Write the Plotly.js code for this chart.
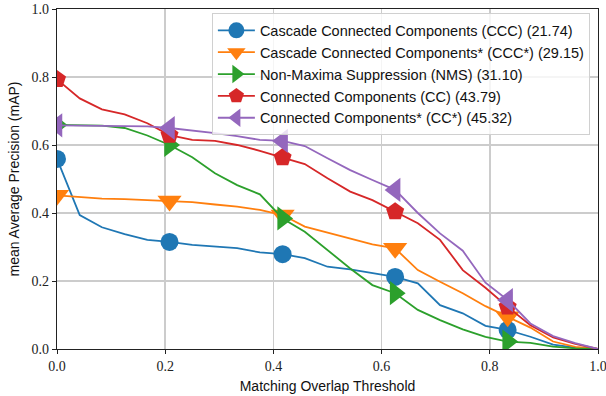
<!DOCTYPE html>
<html>
<head>
<meta charset="utf-8">
<script src="https://cdn.plot.ly/plotly-3.0.1.min.js"></script>
<style>html,body{margin:0;padding:0;background:#fff;}#chart{width:606px;height:396px;}</style>
</head>
<body>
<div id="chart"></div>
<script>
// Matching overlap thresholds (x)
const thresholds = [0.000,0.042,0.083,0.125,0.167,0.208,0.250,0.292,0.333,0.375,0.417,0.458,0.500,0.542,0.583,0.625,0.667,0.708,0.750,0.792,0.833,0.875,0.917,0.958,1.000];

// mAP series
const ccc     = [0.559,0.394,0.358,0.338,0.321,0.315,0.306,0.302,0.297,0.284,0.279,0.267,0.242,0.234,0.223,0.212,0.193,0.129,0.105,0.068,0.056,0.036,0.013,0.004,0.000];
const cccStar = [0.452,0.448,0.442,0.441,0.438,0.435,0.432,0.425,0.419,0.409,0.394,0.360,0.342,0.326,0.308,0.296,0.232,0.198,0.164,0.126,0.095,0.063,0.022,0.006,0.000];
const nms     = [0.659,0.658,0.657,0.650,0.628,0.600,0.564,0.517,0.482,0.455,0.384,0.345,0.291,0.237,0.188,0.164,0.115,0.085,0.058,0.036,0.022,0.018,0.007,0.002,0.000];
const cc      = [0.793,0.737,0.705,0.690,0.664,0.629,0.615,0.612,0.600,0.583,0.563,0.544,0.502,0.463,0.438,0.404,0.370,0.321,0.232,0.180,0.124,0.070,0.034,0.015,0.000];
const ccStar  = [0.658,0.657,0.656,0.656,0.655,0.650,0.643,0.635,0.626,0.615,0.612,0.597,0.561,0.526,0.497,0.468,0.400,0.340,0.289,0.195,0.144,0.075,0.038,0.017,0.000];

const seriesNames = [
  "Cascade Connected Components (CCC) (21.74)",
  "Cascade Connected Components* (CCC*) (29.15)",
  "Non-Maxima Suppression (NMS) (31.10)",
  "Connected Components (CC) (43.79)",
  "Connected Components* (CC*) (45.32)"
];
const seriesValues = [ccc, cccStar, nms, cc, ccStar];
const colors = ["#1f77b4","#ff7f0e","#2ca02c","#d62728","#9467bd"];
const symbols = ["circle","triangle-down","triangle-right","pentagon","triangle-left"];
const msizes = [18,21,21,19,21];
const markEvery = 5;

const traces = seriesValues.map((vals, i) => ({
  x: thresholds,
  y: vals,
  name: seriesNames[i],
  type: "scatter",
  mode: "lines+markers",
  line: {color: colors[i], width: 1.8},
  marker: {
    symbol: symbols[i],
    size: msizes[i],
    color: vals.map((v, k) => (k % markEvery === 0 && k < vals.length - 1) ? colors[i] : "rgba(0,0,0,0)")
  },
  cliponaxis: true,
  hoverinfo: "skip"
}));

const tickFont = {family: "Liberation Serif, DejaVu Serif, serif", size: 14, color: "#222"};
const sansTitle = {family: "Liberation Sans, Arial, sans-serif", size: 14, color: "#111"};
const layout = {
  width: 606, height: 396,
  margin: {l: 57, r: 8, t: 9, b: 47},
  paper_bgcolor: "#fff", plot_bgcolor: "#fff",
  showlegend: true,
  legend: {
    x: 0.985, xanchor: "right", y: 0.987, yanchor: "top",
    itemwidth: 37,
    bgcolor: "rgba(255,255,255,0.8)", bordercolor: "#d0d0d0", borderwidth: 1,
    font: {family: "Liberation Sans, Arial, sans-serif", size: 14.5, color: "#111"}
  },
  xaxis: {
    range: [0, 1], tickvals: [0, 0.2, 0.4, 0.6, 0.8, 1.0], ticktext: ["0.0","0.2","0.4","0.6","0.8","1.0"],
    ticklabeloverflow: "allow",
    showgrid: true, gridcolor: "#cccccc", gridwidth: 1.5, zeroline: false,
    showline: true, linecolor: "#222", linewidth: 1.2, mirror: true,
    ticks: "outside", ticklen: 4, tickcolor: "#222", tickfont: tickFont,
    title: {text: "Matching Overlap Threshold", font: sansTitle, standoff: 8}
  },
  yaxis: {
    range: [0, 1], tickvals: [0, 0.2, 0.4, 0.6, 0.8, 1.0], ticktext: ["0.0","0.2","0.4","0.6","0.8","1.0"],
    ticklabeloverflow: "allow",
    showgrid: true, gridcolor: "#cccccc", gridwidth: 1.5, zeroline: false,
    showline: true, linecolor: "#222", linewidth: 1.2, mirror: true,
    ticks: "outside", ticklen: 4, tickcolor: "#222", tickfont: tickFont,
    title: {text: "mean Average Precision (mAP)", font: sansTitle, standoff: 8}
  }
};

Plotly.newPlot("chart", traces, layout, {displayModeBar: false, staticPlot: true});
</script>
</body>
</html>
